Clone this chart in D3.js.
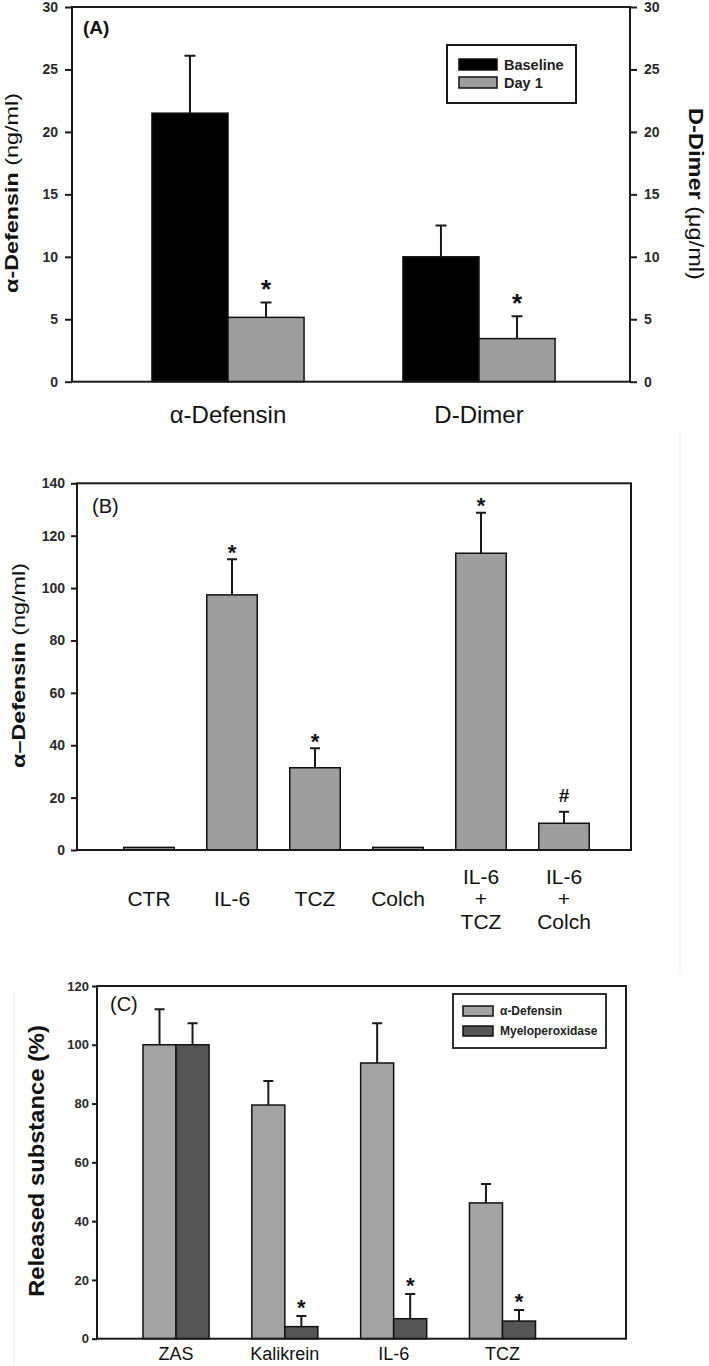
<!DOCTYPE html>
<html><head><meta charset="utf-8">
<script src="https://cdn.jsdelivr.net/npm/d3@7"></script>
<style>body{margin:0;background:#fff} svg{display:block}</style>
</head><body><svg id="c" width="709" height="1366"></svg>
<script>
// ---------- DATA ----------
const aCategories = ["α-Defensin", "D-Dimer"];
const aSeries = ["Baseline", "Day 1"];
const aBaseline = [21.5, 10.0];
const aBaselineErr = [4.6, 2.5];
const aDay1 = [5.15, 3.45];
const aDay1Err = [1.2, 1.8];
const aDay1Marks = ["*", "*"];
const aTicks = [0, 5, 10, 15, 20, 25, 30];

const bCategories = [["CTR"], ["IL-6"], ["TCZ"], ["Colch"], ["IL-6", "+", "TCZ"], ["IL-6", "+", "Colch"]];
const bValues = [1.0, 97.4, 31.4, 1.0, 113.3, 10.2];
const bErr = [0, 13.6, 7.4, 0, 15.5, 4.4];
const bMarks = ["", "*", "*", "", "*", "#"];
const bTicks = [0, 20, 40, 60, 80, 100, 120, 140];

const cGroups = ["ZAS", "Kalikrein", "IL-6", "TCZ"];
const cSeries = ["α-Defensin", "Myeloperoxidase"];
const cDefensin = [100, 79.5, 93.8, 46.2];
const cDefensinErr = [12.1, 8.2, 13.5, 6.4];
const cMPO = [100, 4.1, 6.8, 6.0];
const cMPOErr = [7.3, 3.6, 8.4, 3.75];
const cMPOMarks = ["", "*", "*", "*"];
const cTicks = [0, 20, 40, 60, 80, 100, 120];

// ---------- HELPERS ----------
const FONT = "'Liberation Sans', Arial, Helvetica, sans-serif";
const svg = d3.select("#c");
svg.append("rect").attr("width", 709).attr("height", 1366).attr("fill", "#fff");

// faint scan edges
svg.append("line").attr("x1", 680).attr("x2", 680).attr("y1", 430).attr("y2", 975)
  .attr("stroke", "#ececec").attr("stroke-width", 1);
svg.append("line").attr("x1", 14).attr("x2", 14).attr("y1", 990).attr("y2", 1366)
  .attr("stroke", "#ececec").attr("stroke-width", 1);

function frame(g, x0, x1, yTop, yBot) {
  g.append("rect").attr("x", x0).attr("y", yTop).attr("width", x1 - x0).attr("height", yBot - yTop)
    .attr("fill", "none").attr("stroke", "#1a1a1a").attr("stroke-width", 2);
}
function styleAxis(sel, size) {
  sel.select(".domain").remove();
  sel.selectAll(".tick line").attr("stroke", "#1a1a1a").attr("stroke-width", 2);
  sel.selectAll(".tick text").attr("font-family", FONT).attr("font-weight", "bold")
    .attr("font-size", size).attr("fill", "#2a2a2a");
}
function rotTitle(g, cx, cy, angle, parts, size, targetLen) {
  const t = g.append("text").attr("font-family", FONT).attr("font-size", size)
    .attr("fill", "#111").attr("text-anchor", "middle").attr("dy", "0.35em");
  parts.forEach(p => t.append("tspan").attr("font-weight", p.w).text(p.s));
  const len = t.node().getComputedTextLength();
  const k = targetLen / len;
  t.attr("transform", `translate(${cx},${cy}) rotate(${angle}) scale(${k},1)`);
  return t;
}
function errBar(g, x, y0, y1, hw) {
  g.append("path").attr("d", `M${x},${y0}V${y1}M${x - hw},${y1}H${x + hw}`)
    .attr("stroke", "#1a1a1a").attr("stroke-width", 2).attr("fill", "none");
}

// ---------- PANEL A ----------
{
  const g = svg.append("g");
  const X0 = 72, X1 = 630, YT = 7, YB = 381.7;
  const y = d3.scaleLinear().domain([0, 30]).range([YB, YT]);
  const x = d3.scaleBand().domain(aCategories).range([102.5, 604.5]).paddingInner(0.394).paddingOuter(0.197);
  const xs = d3.scaleBand().domain(aSeries).range([0, x.bandwidth()]);
  const colors = { "Baseline": "#000000", "Day 1": "#9e9e9e" };
  const rows = aCategories.map((c, i) => ({
    c, vals: [
      { s: "Baseline", v: aBaseline[i], e: aBaselineErr[i], m: "" },
      { s: "Day 1", v: aDay1[i], e: aDay1Err[i], m: aDay1Marks[i] }
    ]
  }));
  rows.forEach(r => {
    r.vals.forEach(d => {
      const bx = x(r.c) + xs(d.s);
      const cx = bx + xs.bandwidth() / 2;
      errBar(g, cx, y(d.v), y(d.v + d.e), 5.5);
      g.append("rect").attr("x", bx).attr("y", y(d.v)).attr("width", xs.bandwidth())
        .attr("height", y(0) - y(d.v)).attr("fill", colors[d.s]).attr("stroke", "#111").attr("stroke-width", 1.5);
      if (d.m) g.append("text").attr("x", cx).attr("y", y(d.v + d.e) - 4.5)
        .attr("text-anchor", "middle").attr("font-family", FONT).attr("font-weight", "bold")
        .attr("font-size", 26).attr("fill", "#111").text(d.m);
    });
  });
  frame(g, X0, X1, YT, YB);
  const ax = g.append("g").attr("transform", `translate(${X0},0)`)
    .call(d3.axisLeft(y).tickValues(aTicks).tickSize(7).tickPadding(7));
  styleAxis(ax, 14);
  const ax2 = g.append("g").attr("transform", `translate(${X1},0)`)
    .call(d3.axisRight(y).tickValues(aTicks).tickSize(7).tickPadding(7));
  styleAxis(ax2, 14);
  // category labels
  g.selectAll(".catA").data(aCategories).enter().append("text")
    .attr("x", d => x(d) + x.bandwidth() / 2).attr("y", 423).attr("text-anchor", "middle")
    .attr("font-family", FONT).attr("font-size", 24).attr("fill", "#111").text(d => d);
  // titles
  rotTitle(g, 11.5, 193, -90, [{ s: "α-Defensin", w: "bold" }, { s: " (ng/ml)", w: "normal" }], 18, 200);
  rotTitle(g, 696, 194, 90, [{ s: "D-Dimer", w: "bold" }, { s: " (μg/ml)", w: "normal" }], 20, 172);
  g.append("text").attr("x", 83).attr("y", 34).attr("font-family", FONT).attr("font-weight", "bold")
    .attr("font-size", 19).attr("fill", "#111").text("(A)");
  // legend
  g.append("rect").attr("x", 447).attr("y", 45).attr("width", 129).attr("height", 58)
    .attr("fill", "#fff").attr("stroke", "#1a1a1a").attr("stroke-width", 2);
  aSeries.forEach((s, i) => {
    const ly = 59 + i * 18;
    g.append("rect").attr("x", 459).attr("y", ly).attr("width", 38).attr("height", 11)
      .attr("fill", colors[s]).attr("stroke", "#111").attr("stroke-width", 1.5);
    g.append("text").attr("x", 504).attr("y", ly + 5.5).attr("dy", "0.35em")
      .attr("font-family", FONT).attr("font-weight", "bold").attr("font-size", 14.5)
      .attr("fill", "#222").text(s);
  });
}

// ---------- PANEL B ----------
{
  const g = svg.append("g");
  const X0 = 77, X1 = 631, YT = 483.3, YB = 850;
  const y = d3.scaleLinear().domain([0, 140]).range([YB, YT]);
  const keys = bCategories.map(d => d.join(" "));
  const x = d3.scaleBand().domain(keys).range([107.5, 605.5]).paddingInner(0.392).paddingOuter(0.196);
  keys.forEach((k, i) => {
    const bx = x(k), cx = bx + x.bandwidth() / 2;
    if (bErr[i] > 0) errBar(g, cx, y(bValues[i]), y(bValues[i] + bErr[i]), 5);
    g.append("rect").attr("x", bx).attr("y", y(bValues[i])).attr("width", x.bandwidth())
      .attr("height", y(0) - y(bValues[i])).attr("fill", "#9e9e9e").attr("stroke", "#111").attr("stroke-width", 1.5);
    const m = bMarks[i];
    if (m === "*") g.append("text").attr("x", cx).attr("y", y(bValues[i] + bErr[i]) + 0.5)
      .attr("text-anchor", "middle").attr("font-family", FONT).attr("font-weight", "bold")
      .attr("font-size", 22).attr("fill", "#111").text(m);
    if (m === "#") g.append("text").attr("x", cx).attr("y", y(bValues[i] + bErr[i]) - 9.5)
      .attr("text-anchor", "middle").attr("font-family", FONT).attr("font-weight", "bold")
      .attr("font-size", 19).attr("fill", "#111").text(m);
    const lines = bCategories[i];
    lines.forEach((ln, j) => {
      g.append("text").attr("x", cx).attr("y", 906 + (j - (lines.length - 1) / 2) * 22.5)
        .attr("text-anchor", "middle").attr("font-family", FONT).attr("font-size", 21)
        .attr("fill", "#111").text(ln);
    });
  });
  frame(g, X0, X1, YT, YB);
  const ax = g.append("g").attr("transform", `translate(${X0},0)`)
    .call(d3.axisLeft(y).tickValues(bTicks).tickSize(6).tickPadding(6));
  styleAxis(ax, 14);
  rotTitle(g, 19, 665.5, -90, [{ s: "α–Defensin", w: "bold" }, { s: " (ng/ml)", w: "normal" }], 18, 205);
  g.append("text").attr("x", 92).attr("y", 513).attr("font-family", FONT)
    .attr("font-size", 20).attr("fill", "#111").text("(B)");
}

// ---------- PANEL C ----------
{
  const g = svg.append("g");
  const X0 = 97, X1 = 626, YT = 986, YB = 1338.7;
  const y = d3.scaleLinear().domain([0, 120]).range([YB, YT]);
  const x = d3.scaleBand().domain(cGroups).range([121.6, 556.9]).paddingInner(0.393).paddingOuter(0.1966);
  const xs = d3.scaleBand().domain(cSeries).range([0, x.bandwidth()]);
  const colors = { "α-Defensin": "#a3a3a3", "Myeloperoxidase": "#555555" };
  cGroups.forEach((grp, i) => {
    const vals = [
      { s: cSeries[0], v: cDefensin[i], e: cDefensinErr[i], m: "" },
      { s: cSeries[1], v: cMPO[i], e: cMPOErr[i], m: cMPOMarks[i] }
    ];
    vals.forEach(d => {
      const bx = x(grp) + xs(d.s), cx = bx + xs.bandwidth() / 2;
      errBar(g, cx, y(d.v), y(d.v + d.e), 5);
      g.append("rect").attr("x", bx).attr("y", y(d.v)).attr("width", xs.bandwidth())
        .attr("height", y(0) - y(d.v)).attr("fill", colors[d.s]).attr("stroke", "#111").attr("stroke-width", 1.5);
      if (d.m) g.append("text").attr("x", cx).attr("y", y(d.v + d.e) - 1.5)
        .attr("text-anchor", "middle").attr("font-family", FONT).attr("font-weight", "bold")
        .attr("font-size", 22).attr("fill", "#111").text(d.m);
    });
    g.append("text").attr("x", x(grp) + x.bandwidth() / 2).attr("y", 1360).attr("text-anchor", "middle")
      .attr("font-family", FONT).attr("font-size", 18).attr("fill", "#111").text(grp);
  });
  frame(g, X0, X1, YT, YB);
  const ax = g.append("g").attr("transform", `translate(${X0},0)`)
    .call(d3.axisLeft(y).tickValues(cTicks).tickSize(5).tickPadding(3));
  styleAxis(ax, 13);
  rotTitle(g, 36, 1161, -90, [{ s: "Released substance (%)", w: "bold" }], 22, 272);
  g.append("text").attr("x", 110).attr("y", 1011).attr("font-family", FONT)
    .attr("font-size", 20).attr("fill", "#111").text("(C)");
  // legend
  g.append("rect").attr("x", 453).attr("y", 994).attr("width", 153).attr("height", 54)
    .attr("fill", "#fff").attr("stroke", "#1a1a1a").attr("stroke-width", 1.8);
  cSeries.forEach((s, i) => {
    const ly = 1006 + i * 20;
    g.append("rect").attr("x", 463).attr("y", ly).attr("width", 30).attr("height", 10)
      .attr("fill", colors[s]).attr("stroke", "#111").attr("stroke-width", 1.5);
    g.append("text").attr("x", 500).attr("y", ly + 5).attr("dy", "0.35em")
      .attr("font-family", FONT).attr("font-weight", "bold").attr("font-size", 12)
      .attr("fill", "#222").text(s);
  });
}
</script></body></html>
